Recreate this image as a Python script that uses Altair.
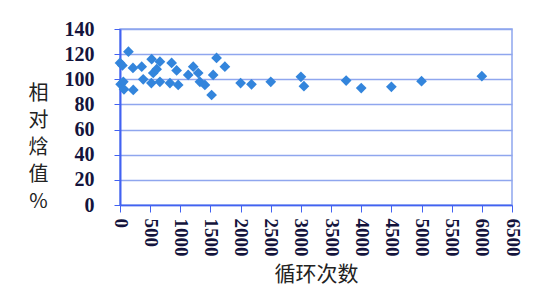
import altair as alt
import pandas as pd

# Data
cycles = [0, 10, 40, 55, 66, 140, 215, 220, 360, 385, 520, 525, 551, 608, 662, 662,
          828, 856, 939, 965, 1131, 1214, 1297, 1325, 1408, 1519, 1545, 1601, 1739,
          2000, 2180, 2500, 3000, 3050, 3750, 4000, 4500, 5000, 6000]
enthalpy = [113, 96, 111, 98, 92, 122, 109, 91.5, 110, 100, 97, 116, 105, 108, 114, 98,
            97, 113, 107, 95.5, 103.5, 110, 105, 98, 95.5, 87.5, 103.5, 117, 110,
            97, 96, 98, 102, 94.5, 99, 93, 94, 98.5, 102.5]
x_ticks = list(range(0, 6501, 500))
y_ticks = list(range(0, 141, 20))
x_title = "循环次数"
y_title = ["相", "对", "焓", "值", "%"]

df = pd.DataFrame({"cycle": cycles, "value": enthalpy})

grid_color = "#8fa6ee"
axis_color = "#4262f2"
label_color = "#14143c"

chart = alt.Chart(df).mark_point(
    shape="diamond", filled=True, size=115, color="#3385dc", opacity=1
).encode(
    x=alt.X(
        "cycle:Q",
        scale=alt.Scale(domain=[0, 6500], nice=False, zero=True),
        axis=alt.Axis(
            values=x_ticks, format="d", labelAngle=90, grid=False,
            labelFont="Liberation Serif", labelFontWeight="bold", labelFontSize=19,
            labelColor=label_color, labelPadding=6, tickSize=7, tickColor=axis_color,
            domainColor=axis_color, domainWidth=1.5, labelOverlap=False,
            title=x_title, titleFont="Noto Sans CJK SC", titleFontWeight="normal",
            titleFontSize=21, titleColor="#222222", titleY=58, titleBaseline="top",
        ),
    ),
    y=alt.Y(
        "value:Q",
        scale=alt.Scale(domain=[0, 140], nice=False),
        axis=alt.Axis(
            values=y_ticks, format="d", grid=True, gridColor=grid_color, gridWidth=1.5,
            labelFont="Liberation Serif", labelFontWeight="bold", labelFontSize=20,
            labelColor=label_color, labelPadding=20, tickSize=6, tickColor=axis_color,
            domainColor=axis_color, domainWidth=2,
            title=y_title, titleAngle=0, titleX=-82, titleY=54, titleBaseline="top",
            titleAlign="center", titleLineHeight=27, titleFont="Noto Sans CJK SC",
            titleFontWeight="normal", titleFontSize=20, titleColor="#222222",
        ),
    ),
).properties(
    width=392, height=176,
    autosize=alt.AutoSizeParams(type="none"),
    padding={"left": 120, "top": 29, "right": 22, "bottom": 94},
).configure_view(stroke=grid_color, strokeWidth=1.5)

chart.save("out.html", embed_options={"renderer": "svg", "actions": False})
